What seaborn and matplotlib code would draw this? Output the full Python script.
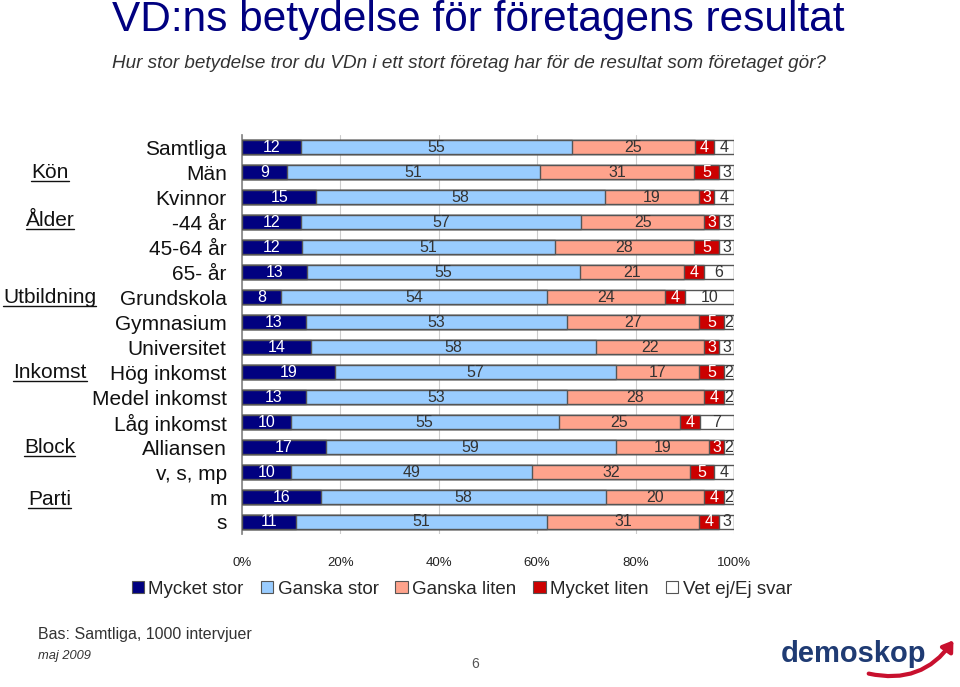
"""
VD:ns betydelse - stacked horizontal bars
"""

import numpy as np
import pandas as pd
import matplotlib
matplotlib.use('Agg')
import matplotlib.pyplot as plt
from matplotlib.lines import Line2D
from matplotlib.patches import FancyArrowPatch, Patch
import seaborn as sns

categories = ['Samtliga', 'Män', 'Kvinnor', '-44 år', '45-64 år', '65- år', 'Grundskola', 'Gymnasium',
              'Universitet', 'Hög inkomst', 'Medel inkomst', 'Låg inkomst', 'Alliansen', 'v, s, mp', 'm', 's']
mycket_stor = [12, 9, 15, 12, 12, 13, 8, 13, 14, 19, 13, 10, 17, 10, 16, 11]
ganska_stor = [55, 51, 58, 57, 51, 55, 54, 53, 58, 57, 53, 55, 59, 49, 58, 51]
ganska_liten = [25, 31, 19, 25, 28, 21, 24, 27, 22, 17, 28, 25, 19, 32, 20, 31]
mycket_liten = [4, 5, 3, 3, 5, 4, 4, 5, 3, 5, 4, 4, 3, 5, 4, 4]
vet_ej = [4, 3, 4, 3, 3, 6, 10, 2, 3, 2, 2, 7, 2, 4, 2, 3]

series_names = ['Mycket stor', 'Ganska stor', 'Ganska liten', 'Mycket liten', 'Vet ej/Ej svar']
series_colors = ['#000080', '#99CCFF', '#FFA38C', '#CC0000', '#FFFFFF']
label_colors = ['white', '#333333', '#333333', 'white', '#333333']

group_labels = ['Kön', 'Ålder', 'Utbildning', 'Inkomst', 'Block', 'Parti']
group_rows = [1, 2.92, 6, 9, 12, 14.08]

x_ticks = [0, 20, 40, 60, 80, 100]

FONT = ['Liberation Sans', 'DejaVu Sans']

sns.set_theme(style='white')
plt.rcParams['font.family'] = FONT

df = pd.DataFrame({'cat': categories, series_names[0]: mycket_stor, series_names[1]: ganska_stor,
                   series_names[2]: ganska_liten, series_names[3]: mycket_liten, series_names[4]: vet_ej})
vals = df[series_names]
share = vals.div(vals.sum(axis=1), axis=0) * 100
cum = share.cumsum(axis=1)

fig = plt.figure(figsize=(9.6, 6.87), dpi=100)
ax = fig.add_axes([0.252, 0.222, 0.5125, 0.582])

# draw cumulative bars from the right-most series down so they stack
for i in range(len(series_names) - 1, -1, -1):
    sns.barplot(x=cum[series_names[i]], y=df['cat'], orient='h', order=categories, color=series_colors[i],
                saturation=1, width=0.55, edgecolor='#555555', linewidth=1, ax=ax, zorder=3)

# value labels centred in each segment
for r in range(len(categories)):
    for i, name in enumerate(series_names):
        right = cum.iloc[r, i]
        left = right - share.iloc[r, i]
        ax.text((left + right) / 2, r, str(vals.iloc[r, i]), ha='center', va='center',
                fontsize=11.5, color=label_colors[i], zorder=5)

ax.set_xlim(0, 100)
ax.set_ylim(len(categories) - 0.5, -0.5)
ax.set_xticks(x_ticks)
ax.set_xticklabels([f'{t}%' for t in x_ticks], fontsize=9.5, color='#222222')
ax.tick_params(axis='x', length=0, pad=16)
ax.tick_params(axis='y', length=0, pad=11, labelsize=15, labelcolor='#111111')
ax.set_xlabel('')
ax.set_ylabel('')
ax.xaxis.grid(True, color='#cccccc', linewidth=0.8, zorder=0)
ax.set_axisbelow(True)
for s in ['top', 'right', 'bottom']:
    ax.spines[s].set_visible(False)
ax.spines['left'].set_color('#888888')

# group labels, underlined
fig.canvas.draw()
renderer = fig.canvas.get_renderer()
trans = matplotlib.transforms.blended_transform_factory(fig.transFigure, ax.transData)
for lbl, row in zip(group_labels, group_rows):
    t = fig.text(0.052, row, lbl, transform=trans, ha='center', va='center', fontsize=15, color='#111111')
    bb = t.get_window_extent(renderer)
    fig.add_artist(Line2D([bb.x0, bb.x1], [bb.y0 + 1, bb.y0 + 1], transform=None, color='#111111', linewidth=1))

# legend
handles = [Patch(facecolor=c, edgecolor='#555555', linewidth=0.8) for c in series_colors]
fig.legend(handles, series_names, loc='center', bbox_to_anchor=(0.481, 1 - 589 / 687), ncol=5, frameon=False,
           fontsize=13.5, handlelength=0.65, handleheight=0.65, handletextpad=0.25, columnspacing=0.9)

# titles
fig.text(112 / 960, 1 - 20 / 687, 'VD:ns betydelse för företagens resultat', ha='left', va='center',
         fontsize=30.5, color='#000080')
fig.text(112 / 960, 1 - 63 / 687,
         'Hur stor betydelse tror du VDn i ett stort företag har för de resultat som företaget gör?',
         ha='left', va='center', fontsize=13.6, style='italic', color='#333333')

# footer
fig.text(38 / 960, 1 - 635 / 687, 'Bas: Samtliga, 1000 intervjuer', ha='left', va='center', fontsize=11.5,
         color='#333333')
fig.text(38 / 960, 1 - 656 / 687, 'maj 2009', ha='left', va='center', fontsize=9.3, style='italic',
         color='#333333')
fig.text(475 / 960, 1 - 664 / 687, '6', ha='center', va='center', fontsize=10, color='#555555')
fig.text(854 / 960, 1 - 654 / 687, 'demoskop', ha='center', va='center', fontsize=21, weight='bold',
         color='#1F3B73')
arrow = FancyArrowPatch((866 / 960, 1 - 673 / 687), (955 / 960, 1 - 638 / 687), transform=fig.transFigure,
                        connectionstyle='arc3,rad=0.35', arrowstyle='-|>,head_length=6,head_width=4',
                        color='#C8102E', linewidth=3)
fig.add_artist(arrow)

plt.savefig('out.png', dpi=100)
